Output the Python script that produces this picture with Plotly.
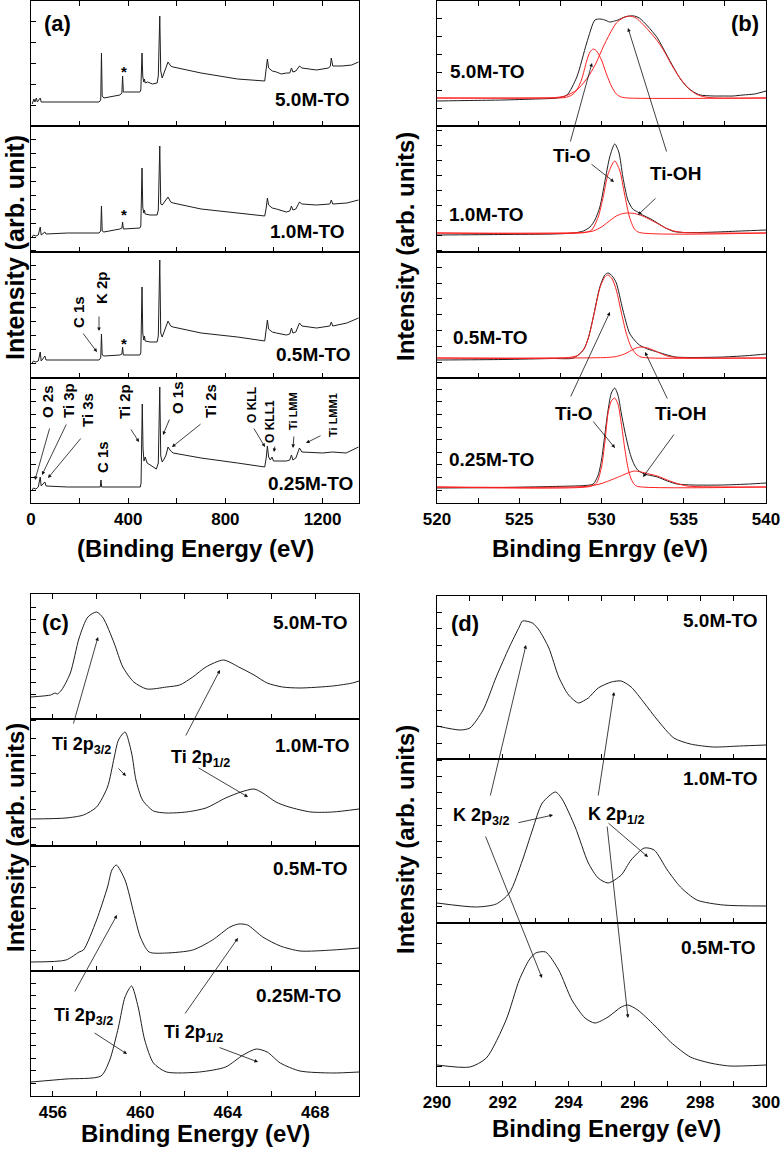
import plotly.graph_objects as go

W, H = 781, 1149
FONT = "Liberation Sans, Arial, Helvetica, sans-serif"
BLACK = "#1e1e1e"
RED = "#ff2020"

# ---------------- panel (a): survey spectra ----------------
a50_e = [5, 8, 12, 16, 22, 26, 38, 42, 60, 150, 280, 287, 290, 293, 300, 366, 374, 377, 380, 390,
         448, 452, 457, 460, 464, 467, 470, 480, 500, 519, 524, 530, 534, 540, 555, 564, 575, 585, 700, 850,
         962, 968, 973, 978, 993, 1010, 1030, 1051, 1065, 1072, 1078, 1090, 1105, 1115, 1140, 1175, 1225, 1232, 1236, 1242,
         1280, 1320, 1348]
a50_i = [22, 25, 27, 24, 28, 24, 28, 24, 24, 24, 24, 26, 73, 30, 28, 31, 33, 50, 34, 34,
         34, 36, 73, 50, 44, 47, 43, 44, 42, 43, 50, 110, 55, 48, 58, 64, 60, 59, 53, 47,
         45, 55, 67, 58, 55, 54, 52, 53, 53, 58, 54, 55, 60, 58, 57, 56, 58, 60, 68, 60,
         60, 61, 64]

a10_e = [5, 10, 20, 30, 38, 42, 57, 62, 150, 280, 287, 290, 293, 300, 366, 374, 377, 380, 448, 452,
         457, 460, 464, 467, 470, 490, 519, 524, 530, 534, 540, 555, 564, 575, 585, 700, 850, 962, 968, 973,
         978, 993, 1010, 1051, 1065, 1072, 1078, 1090, 1105, 1115, 1175, 1230, 1236, 1242, 1300, 1348]
a10_i = [15, 17, 16, 17, 25, 17, 20, 18, 19, 19, 21, 46, 21, 20, 23, 24, 30, 23, 24, 26,
         84, 45, 39, 42, 38, 37, 37, 42, 106, 48, 47, 52, 55, 50, 49, 43, 39, 36, 44, 54,
         47, 44, 43, 40, 41, 46, 42, 43, 50, 48, 47, 48, 52, 48, 49, 52]

a05_e = list(a10_e)
a05_i = [15, 17, 16, 17, 26, 17, 22, 18, 18, 18, 20, 44, 23, 22, 23, 24, 31, 23, 23, 25,
         91, 45, 38, 42, 37, 36, 36, 42, 118, 45, 41, 50, 57, 52, 51, 45, 41, 37, 47, 58,
         49, 46, 45, 43, 44, 50, 45, 46, 55, 52, 50, 52, 56, 52, 55, 60]

a025_e = [5, 10, 20, 30, 38, 42, 57, 62, 150, 280, 285, 288, 291, 450, 453, 458, 461, 465, 470, 478,
          500, 516, 524, 530, 534, 540, 548, 556, 564, 575, 585, 700, 850, 962, 968, 973, 978, 985, 992, 998,
          1051, 1065, 1072, 1078, 1090, 1105, 1115, 1200, 1240, 1297, 1348]
a025_i = [13, 15, 14, 16, 26, 17, 21, 17, 16, 16, 16, 23, 16, 16, 20, 99, 55, 42, 46, 40,
          36, 34, 40, 116, 47, 41, 44, 48, 56, 52, 50, 45, 40, 36, 45, 57, 46, 43, 46, 42,
          42, 43, 48, 43, 45, 55, 51, 50, 51, 50, 56]

# ---------------- panel (b): O 1s ----------------
b50_e = [520, 522, 524, 526, 527.3, 527.9, 528.5, 529.1, 529.6, 529.9, 530.2, 530.5, 530.8, 531.0, 531.4, 531.7,
         532.0, 532.3, 532.8, 533.4, 533.9, 534.4, 534.8, 535.2, 535.6, 536.0, 536.8, 537.4, 538.0, 538.6, 539.3, 540]
b50_i = [25, 25.5, 26, 27, 28, 31, 49, 83, 106, 107, 106, 104, 105, 106, 109, 110,
         110, 108, 100, 88, 73, 58, 47, 39, 34, 31, 30, 30, 30, 31, 32, 35]
b50_tio_e = [520, 527, 527.8, 528.2, 528.5, 528.8, 529.1, 529.3, 529.5, 529.7, 530.0, 530.3, 530.6, 530.9, 531.2, 531.6, 540]
b50_tio_i = [28, 28, 28.5, 31, 36, 47, 65, 74, 77, 75, 66, 52, 40, 32, 29, 28, 28]
b50_tioh_e = [520, 526, 527.2, 527.8, 528.5, 529.0, 529.3, 529.7, 530.1, 530.5, 530.9, 531.3, 531.7, 532.1, 532.5,
              533.0, 533.4, 533.8, 534.2, 534.6, 535.0, 535.4, 535.8, 536.3, 537, 540]
b50_tioh_i = [28, 28, 28.5, 30, 36, 45, 52, 64, 79, 92, 103, 108, 110, 108, 102,
              93, 85, 75, 63, 52, 43, 36, 31.5, 29, 28, 28]

b10_e = [520, 524, 527, 528.3, 528.9, 529.3, 529.6, 529.9, 530.2, 530.5, 530.8, 531.05, 531.3, 531.6, 531.9, 532.2,
         532.5, 533.0, 533.4, 533.9, 534.4, 535.0, 536, 537, 538.5, 540]
b10_i = [17, 17.5, 18, 19, 21, 25, 32, 45, 70, 95, 108, 100, 75, 52, 43, 40,
         37, 33, 29, 24, 20.5, 19.5, 19.5, 20, 21, 22]
b10_tio_e = [520, 529.0, 529.4, 529.8, 530.1, 530.4, 530.8, 531.1, 531.4, 531.7, 532.0, 532.3, 540]
b10_tio_i = [19, 19.5, 22, 35, 55, 78, 91, 82, 58, 35, 23, 19.5, 19]
b10_tioh_e = [520, 528.8, 529.5, 530.0, 530.4, 530.9, 531.3, 531.6, 532.0, 532.5, 533.0, 533.4, 533.9, 534.4, 535.0, 540]
b10_tioh_i = [19, 19.5, 21, 25, 30, 36, 38.5, 39, 38.5, 36, 32, 28.5, 24, 21, 19.5, 19]

b05_e = [520, 524, 527, 528.3, 528.9, 529.2, 529.5, 529.9, 530.2, 530.4, 530.65, 530.9, 531.3, 531.7, 532.0, 532.3,
         532.8, 533.4, 534.0, 534.5, 535.5, 537.4, 539, 540]
b05_i = [18, 18.5, 19.5, 20, 28, 40, 61, 91, 103, 105, 102, 95, 68, 45, 38, 33,
         29, 26, 23, 21, 20.5, 21, 22.5, 24]
b05_tio_e = [520, 528.0, 528.6, 529.0, 529.3, 529.6, 529.9, 530.2, 530.4, 530.65, 530.9, 531.2, 531.5, 531.8, 532.1, 532.4, 533, 540]
b05_tio_i = [20, 20.5, 23, 31, 46, 68, 90, 101, 103, 99, 88, 66, 45, 31, 24, 21, 20, 20]
b05_tioh_e = [520, 530.3, 530.9, 531.4, 531.8, 532.1, 532.4, 532.8, 533.2, 533.6, 534.0, 534.6, 540]
b05_tioh_i = [20, 20.5, 21.5, 24, 27.5, 30, 31, 30, 27.5, 24.5, 22, 20.5, 20]

b025_e = [520, 524, 527, 529.0, 529.5, 529.8, 530.0, 530.2, 530.4, 530.6, 530.8, 531.0, 531.2, 531.4, 531.6, 531.8,
          532.0, 532.2, 532.6, 533.0, 533.4, 534.0, 534.6, 535.5, 537.4, 539, 540]
b025_i = [15, 15.5, 16.5, 17.5, 19, 28, 43, 68, 93, 110, 115, 108, 90, 73, 58, 46,
          38, 33, 29, 27.5, 26, 22, 19, 18, 18, 19, 20]
b025_tio_e = [520, 529.3, 529.7, 530.0, 530.2, 530.4, 530.6, 530.8, 531.0, 531.2, 531.4, 531.6, 531.8, 532.0, 532.2, 540]
b025_tio_i = [16, 16.5, 20, 36, 60, 90, 102, 105, 99, 80, 56, 36, 24, 18.5, 16.5, 16]
b025_tioh_e = [520, 529.0, 529.9, 530.5, 531.1, 531.6, 532.0, 532.4, 532.9, 533.4, 534.0, 534.6, 535.2, 536, 540]
b025_tioh_i = [16, 16.5, 19, 22.5, 26.5, 30, 32, 31, 29, 27, 23, 19.5, 17, 16.3, 16]

# ---------------- panel (c): Ti 2p ----------------
c50_e = [455.0, 455.9, 456.1, 456.2, 456.4, 456.8, 457.2, 457.6, 458.0, 458.3, 458.8, 459.2, 459.7, 460.3,
         461.2, 461.8, 462.4, 463.0, 463.8, 464.5, 465.2, 465.8, 466.5, 467.3, 468.8, 469.7, 470.0]
c50_i = [22, 24, 26, 25, 29, 46, 81, 102, 107, 101, 76, 52, 37, 30,
         32, 34, 42, 52, 59, 52, 44, 36, 32, 31, 33, 36, 38]
c10_e = [455.0, 456.6, 457.4, 458.0, 458.5, 458.8, 459.0, 459.3, 459.6, 459.8, 460.1, 460.6, 461.2, 462.1,
         463.0, 463.9, 464.6, 465.2, 465.6, 466.2, 466.8, 467.8, 468.8, 470.0]
c10_i = [27, 28, 31, 39, 59, 88, 106, 114, 93, 66, 46, 35, 33, 34,
         38, 48, 54, 57, 53, 44, 39, 34, 34, 37]
c05_e = [455.0, 456.6, 457.2, 457.4, 458.0, 458.5, 458.7, 458.9, 459.3, 459.7, 460.0, 460.4, 461.2, 462.4,
         463.3, 464.1, 464.5, 464.9, 465.6, 466.4, 467.3, 468.8, 470.0]
c05_i = [9, 11, 19, 21, 51, 84, 101, 106, 91, 58, 34, 19, 18, 21,
         31, 44, 47, 46, 34, 25, 20, 21, 23]
c025_e = [455.0, 456.6, 458.2, 458.6, 459.0, 459.3, 459.6, 459.9, 460.2, 460.6, 461.2, 462.7, 463.9, 464.7,
          465.3, 465.8, 466.4, 467.3, 468.8, 470.0]
c025_i = [14, 17, 20, 36, 69, 99, 110, 89, 56, 33, 24, 24, 29, 41,
          47, 44, 33, 25, 23, 24]

# ---------------- panel (d): K 2p ----------------
d50_e = [290.0, 290.7, 291.0, 291.4, 291.8, 292.2, 292.5, 292.6, 292.9, 293.1, 293.4, 293.7, 294.0, 294.3,
         294.5, 294.6, 294.9, 295.3, 295.6, 295.9, 296.3, 296.7, 297.2, 297.7, 298.4, 299.2, 300.0]
d50_i = [33, 29, 31, 49, 82, 112, 132, 138, 136, 129, 111, 82, 64, 56,
         59, 61, 71, 77, 78, 72, 56, 39, 21, 15, 12, 13, 14]
d10_e = [290.0, 291.2, 291.8, 292.2, 292.6, 292.9, 293.2, 293.6, 293.8, 294.2, 294.6, 294.9, 295.2, 295.6,
         295.9, 296.3, 296.6, 297.0, 297.4, 297.9, 298.7, 300.0]
d10_i = [20, 16, 19, 30, 63, 93, 120, 131, 124, 96, 60, 45, 40, 48,
         63, 75, 73, 53, 36, 23, 18, 17]
d05_e = [290.0, 291.0, 291.5, 292.1, 292.5, 292.8, 293.0, 293.3, 293.7, 294.1, 294.5, 294.8, 295.2, 295.6,
         295.8, 296.1, 296.6, 297.1, 297.7, 298.3, 298.9, 300.0]
d05_i = [21, 19, 28, 66, 106, 126, 133, 134, 116, 86, 68, 63, 69, 79,
         81, 76, 61, 44, 29, 23, 20, 21]

# x tick definitions
a_ticks = [0, 200, 400, 600, 800, 1000, 1200]
a_labels = ["0", "", "400", "", "800", "", "1200"]
b_ticks = [520, 522.5, 525, 527.5, 530, 532.5, 535, 537.5, 540]
b_labels = ["520", "", "525", "", "530", "", "535", "", "540"]
c_ticks = [456, 458, 460, 462, 464, 466, 468]
c_labels = ["456", "", "460", "", "464", "", "468"]
d_ticks = [290, 291, 292, 293, 294, 295, 296, 297, 298, 299, 300]
d_labels = ["290", "", "292", "", "294", "", "296", "", "298", "", "300"]

fig = go.Figure()
layout = {}
count = [0]


def PX(x):
    return x / W


def PY(y):
    return 1 - y / H


def add_subplot(xpx, ypx, xrange, ytick0, ydtick, tickvals, ticktext, is_bottom, is_top, series, smooth):
    count[0] += 1
    k = count[0]
    xid = "x" if k == 1 else f"x{k}"
    yid = "y" if k == 1 else f"y{k}"
    xa = "xaxis" if k == 1 else f"xaxis{k}"
    ya = "yaxis" if k == 1 else f"yaxis{k}"
    hpx = ypx[1] - ypx[0]
    layout[xa] = dict(domain=[PX(xpx[0]), PX(xpx[1])], anchor=yid, range=xrange,
                      showline=True, linecolor="black", linewidth=1.3,
                      mirror="ticks" if is_top else True,
                      ticks="inside", ticklen=5, tickwidth=1, tickcolor="black",
                      tickmode="array", tickvals=tickvals, ticktext=ticktext,
                      showticklabels=is_bottom,
                      tickfont=dict(family=FONT, size=17, color="black", weight="bold"),
                      showgrid=False, zeroline=False, automargin=False, fixedrange=True)
    layout[ya] = dict(domain=[PY(ypx[1]), PY(ypx[0])], anchor=xid, range=[0, hpx],
                      showline=True, linecolor="black", linewidth=1.3, mirror=True,
                      ticks="inside", ticklen=5, tickwidth=1, tickcolor="black",
                      tick0=ytick0, dtick=ydtick, showticklabels=False,
                      showgrid=False, zeroline=False, automargin=False, fixedrange=True)
    for xs, ys, color in series:
        line = dict(color=color, width=1)
        if smooth:
            line.update(shape="spline", smoothing=0.7)
        fig.add_trace(go.Scatter(x=xs, y=ys, mode="lines", line=line,
                                 xaxis=xid, yaxis=yid, showlegend=False, hoverinfo="skip"))


AX = (31, 359)
BX = (437, 766)
# panel (a)
add_subplot(AX, (1, 126), [0, 1350], 21, 21, a_ticks, a_labels, False, True, [(a50_e, a50_i, BLACK)], False)
add_subplot(AX, (126, 252), [0, 1350], 15, 13.9, a_ticks, a_labels, False, False, [(a10_e, a10_i, BLACK)], False)
add_subplot(AX, (252, 378), [0, 1350], 15, 14, a_ticks, a_labels, False, False, [(a05_e, a05_i, BLACK)], False)
add_subplot(AX, (378, 503), [0, 1350], 13, 12.6, a_ticks, a_labels, True, False, [(a025_e, a025_i, BLACK)], False)
# panel (b)
add_subplot(BX, (1, 126), [520, 540], 18, 18, b_ticks, b_labels, False, True,
            [(b50_e, b50_i, BLACK), (b50_tio_e, b50_tio_i, RED), (b50_tioh_e, b50_tioh_i, RED)], True)
add_subplot(BX, (126, 252), [520, 540], 2, 15, b_ticks, b_labels, False, False,
            [(b10_e, b10_i, BLACK), (b10_tio_e, b10_tio_i, RED), (b10_tioh_e, b10_tioh_i, RED)], True)
add_subplot(BX, (252, 378), [520, 540], 16, 15.8, b_ticks, b_labels, False, False,
            [(b05_e, b05_i, BLACK), (b05_tio_e, b05_tio_i, RED), (b05_tioh_e, b05_tioh_i, RED)], True)
add_subplot(BX, (378, 503), [520, 540], 13, 12.6, b_ticks, b_labels, True, False,
            [(b025_e, b025_i, BLACK), (b025_tio_e, b025_tio_i, RED), (b025_tioh_e, b025_tioh_i, RED)], True)
# panel (c)
add_subplot(AX, (594, 719), [455, 470], 12, 12.5, c_ticks, c_labels, False, True, [(c50_e, c50_i, BLACK)], True)
add_subplot(AX, (719, 846), [455, 470], 19, 17.8, c_ticks, c_labels, False, False, [(c10_e, c10_i, BLACK)], True)
add_subplot(AX, (846, 971), [455, 470], 21, 21, c_ticks, c_labels, False, False, [(c05_e, c05_i, BLACK)], True)
add_subplot(AX, (971, 1096), [455, 470], 13, 12.5, c_ticks, c_labels, True, False, [(c025_e, c025_i, BLACK)], True)
# panel (d)
add_subplot(BX, (596, 759), [290, 300], 16, 16.3, d_ticks, d_labels, False, True, [(d50_e, d50_i, BLACK)], True)
add_subplot(BX, (759, 923), [290, 300], 17, 16.2, d_ticks, d_labels, False, False, [(d10_e, d10_i, BLACK)], True)
add_subplot(BX, (923, 1086), [290, 300], 20, 20.5, d_ticks, d_labels, True, False, [(d05_e, d05_i, BLACK)], True)

annotations = []


def text(x, y, s, size, angle=0, xanchor="center"):
    annotations.append(dict(x=PX(x), y=PY(y), xref="paper", yref="paper", text=s, showarrow=False,
                            textangle=angle, xanchor=xanchor, yanchor="middle",
                            font=dict(family=FONT, size=size, color="black")))


def arrow(tail, head):
    annotations.append(dict(x=PX(head[0]), y=PY(head[1]), xref="paper", yref="paper",
                            ax=tail[0] - head[0], ay=tail[1] - head[1], axref="pixel", ayref="pixel",
                            text="", showarrow=True, arrowhead=2, arrowsize=0.9, arrowwidth=0.8,
                            arrowcolor="#111111", standoff=0, startstandoff=0))


# axis titles
text(15, 248, "<b>Intensity (arb. unit)</b>", 25, -90)
text(405, 247, "<b>Intensity (arb. units)</b>", 24, -90)
text(15, 838, "<b>Intensity (arb. units)</b>", 24, -90)
text(405, 840, "<b>Intensity (arb. units)</b>", 24, -90)
text(195, 548, "<b>(Binding Energy (eV)</b>", 24)
text(600, 548, "<b>Binding Enrgy (eV)</b>", 24)
text(195, 1133, "<b>Binding Energy (eV)</b>", 24)
text(606, 1128, "<b>Binding Energy (eV)</b>", 24)

# panel letters
text(57, 23, "<b>(a)</b>", 22)
text(745, 23, "<b>(b)</b>", 22)
text(55, 622, "<b>(c)</b>", 22)
text(465, 623, "<b>(d)</b>", 22)

# sample labels
for (x, y, s) in [(312, 100, "5.0M-TO"), (307, 232, "1.0M-TO"), (313, 355, "0.5M-TO"), (310, 483, "0.25M-TO"),
                  (488, 72, "5.0M-TO"), (486, 215, "1.0M-TO"), (490, 337, "0.5M-TO"), (492, 459, "0.25M-TO"),
                  (310, 622, "5.0M-TO"), (312, 745, "1.0M-TO"), (310, 868, "0.5M-TO"), (298, 995, "0.25M-TO"),
                  (720, 620, "5.0M-TO"), (720, 778, "1.0M-TO"), (718, 947, "0.5M-TO")]:
    text(x, y, "<b>" + s + "</b>", 19)

# panel (a) peak labels
for y in (72, 214, 343):
    text(124, y, "<b>*</b>", 15)
for (x, y, s, sz) in [(78, 312, "C 1s", 15), (102, 288, "K 2p", 15),
                      (48, 402, "O 2s", 15), (68, 401, "Ti 3p", 15), (88, 410, "Ti 3s", 15),
                      (125, 402, "Ti 2p", 15), (103, 457, "C 1s", 15), (177, 398, "O 1s", 15),
                      (210, 401, "Ti 2s", 15), (252, 405, "O KLL", 12), (270, 422, "O KLL1", 12),
                      (293, 411, "Ti LMM", 11), (333, 415, "Ti LMM1", 11)]:
    text(x, y, "<b>" + s + "</b>", sz, -90)
for t, h in [((82, 332), (97, 352)), ((99, 315), (99, 331)), ((50, 427), (35, 480)), ((67, 423), (42, 475)),
             ((82, 437), (48, 478)), ((130, 428), (139, 442)), ((170, 418), (163, 435)), ((202, 423), (172, 447)),
             ((253, 427), (265, 447)), ((275, 445), (274, 452)), ((294, 435), (293, 448)), ((322, 435), (306, 443))]:
    arrow(t, h)

# panel (b) labels
text(572, 155, "<b>Ti-O</b>", 19)
text(675, 173, "<b>Ti-OH</b>", 19)
text(574, 413, "<b>Ti-O</b>", 19)
text(680, 413, "<b>Ti-OH</b>", 19)
for t, h in [((570, 143), (592, 63)), ((590, 163), (614, 182)), ((667, 153), (628, 28)), ((657, 197), (638, 215)),
             ((570, 398), (610, 312)), ((592, 420), (615, 448)), ((668, 400), (645, 352)), ((675, 433), (643, 477))]:
    arrow(t, h)

# panel (c) labels
text(81, 746, "<b>Ti 2p<sub>3/2</sub></b>", 18)
text(200, 758, "<b>Ti 2p<sub>1/2</sub></b>", 18)
text(83, 1016, "<b>Ti 2p<sub>3/2</sub></b>", 18)
text(193, 1033, "<b>Ti 2p<sub>1/2</sub></b>", 18)
for t, h in [((73, 725), (98, 637)), ((117, 767), (126, 776)), ((185, 737), (220, 670)), ((197, 767), (248, 797)),
             ((74, 993), (117, 915)), ((93, 1032), (127, 1054)), ((184, 1015), (238, 938)), ((218, 1047), (258, 1062))]:
    arrow(t, h)

# panel (d) labels
text(481, 816, "<b>K 2p<sub>3/2</sub></b>", 18)
text(616, 815, "<b>K 2p<sub>1/2</sub></b>", 18)
for t, h in [((490, 797), (526, 645)), ((517, 823), (553, 815)), ((485, 835), (542, 978)),
             ((598, 797), (614, 692)), ((607, 822), (648, 857)), ((607, 825), (628, 1018))]:
    arrow(t, h)

fig.update_layout(width=W, height=H, margin=dict(l=0, r=0, t=0, b=0),
                  paper_bgcolor="white", plot_bgcolor="white",
                  font=dict(family=FONT, color="black"),
                  annotations=annotations, showlegend=False, **layout)
fig.write_html("out.html", config={"displayModeBar": False, "staticPlot": True},
               post_script="document.body.style.margin='0px';document.body.style.padding='0px';")
